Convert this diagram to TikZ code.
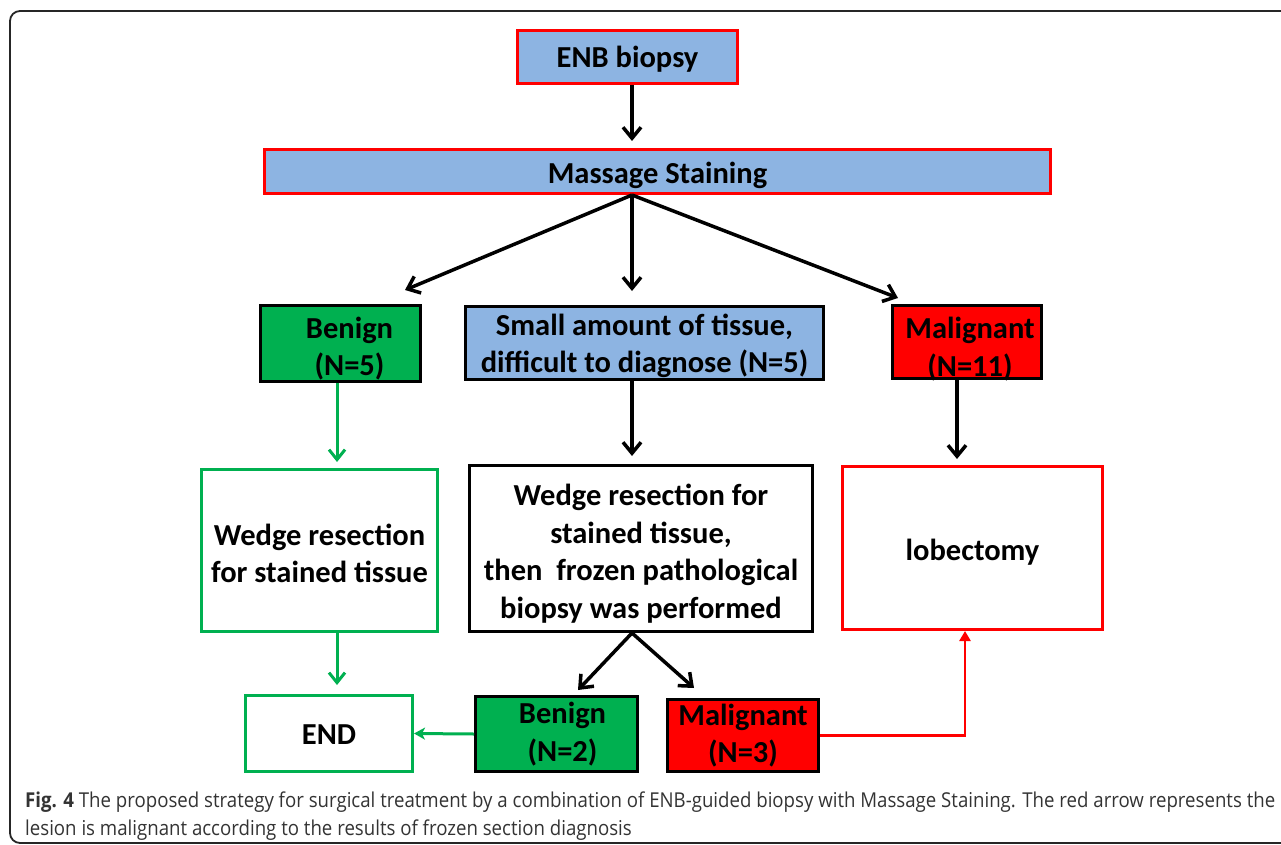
\documentclass[tikz,border=0pt]{standalone}
\usepackage{fontspec}
\setmainfont{Carlito}
\newfontfamily\capfont{Open Sans}
\usetikzlibrary{arrows.meta,calc}
\definecolor{boxblue}{HTML}{8DB4E2}
\definecolor{boxgreen}{HTML}{00B050}
\definecolor{boxred}{HTML}{FF0000}
\definecolor{captext}{HTML}{333333}
\newlength\capwd
\newcommand\capone{{\bfseries Fig. 4} The proposed strategy for surgical treatment by a combination of ENB-guided biopsy with Massage Staining. The red arrow represents the}
\newcommand\captwo{lesion is malignant according to the results of frozen section diagnosis}
\newcommand\lowr[2]{\raisebox{-#1}[\height][\depth]{#2}}
\begin{document}
\settowidth\capwd{\capfont\fontsize{20.5}{24}\selectfont\capone}%
\pgfmathsetmacro\capsx{1250/\capwd}%
\begin{tikzpicture}[x=1pt,y=-1pt,
  box/.style={draw, line width=3pt, inner sep=0pt, align=center,
    font=\fontsize{30.5}{37.5}\selectfont\bfseries},
  bluebox/.style={box, draw=boxred, fill=boxblue},
  blkblue/.style={box, draw=black, fill=boxblue},
  grnfill/.style={box, draw=black, fill=boxgreen},
  redfill/.style={box, draw=black, fill=boxred},
  grnline/.style={box, draw=boxgreen, fill=white},
  blkline/.style={box, draw=black, fill=white},
  redline/.style={box, draw=boxred, fill=white},
  barrow/.style={line width=3.5pt, -{Straight Barb[length=11pt,width=18pt]}},
  garrow/.style={line width=3pt, draw=boxgreen, -{Straight Barb[length=10pt,width=16pt]}},
  garrowt/.style={line width=3pt, draw=boxgreen, -{Stealth[length=11pt,width=12pt,inset=3pt]}},
  rarrow/.style={line width=2.8pt, draw=boxred, -{Triangle[length=10pt,width=11pt]}},
]
\useasboundingbox (0,0) rectangle (1281,845);
\clip (0,0) rectangle (1281,845);
\draw[line width=1.8pt, black!85, rounded corners=10pt] (10,11) rectangle (1320,843);

% nodes
\node[bluebox, minimum width=220pt, minimum height=53pt] (enb) at (627.5,57) {\lowr{2pt}{ENB biopsy}};
\node[bluebox, minimum width=786pt, minimum height=44pt] (mass) at (657.5,171.5) {\lowr{4pt}{Massage Staining}};
\node[grnfill, minimum width=160pt, minimum height=76pt] (ben1) at (340.5,343.5) {\lowr{5pt}{\hspace*{18pt}Benign}\\\lowr{5pt}{\hspace*{18pt}(N=5)}};
\node[blkblue, minimum width=358pt, minimum height=73pt] (small) at (644.5,343) {\lowr{3pt}{Small amount of tissue,}\\\lowr{3pt}{difficult to diagnose (N=5)}};
\node[redfill, minimum width=149pt, minimum height=73pt] (mal1) at (967,342) {\lowr{7pt}{\hspace*{6pt}Malignant}\\\lowr{7pt}{\hspace*{6pt}(N=11)}};
\node[grnline, minimum width=236pt, minimum height=162pt] (wl) at (319.5,550.5) {\lowr{3pt}{Wedge resection}\\\lowr{3pt}{for stained tissue}};
\node[blkline, minimum width=343pt, minimum height=166pt] (wc) at (641,548.5) {\lowr{5pt}{Wedge resection for}\\\lowr{5pt}{stained tissue,}\\\lowr{5pt}{then\ \ frozen pathological}\\\lowr{5pt}{biopsy was performed}};
\node[redline, minimum width=260pt, minimum height=163pt] (lob) at (972.5,548) {\lowr{4pt}{lobectomy}};
\node[grnline, minimum width=167pt, minimum height=76pt] (end) at (329,733.5) {\lowr{1pt}{END}};
\node[grnfill, minimum width=162pt, minimum height=75pt] (ben2) at (556.5,734) {\hspace*{12pt}Benign\\\hspace*{12pt}(N=2)};
\node[redfill, minimum width=151pt, minimum height=72pt] (mal2) at (743,735.5) {Malignant\\(N=3)};

% column coordinates and free ends
\coordinate (cx) at (632,0);
\coordinate (lx) at (337,0);
\coordinate (rx) at (957,0);
\coordinate (rr) at (965,0);
\coordinate (t1) at (405,290);
\coordinate (t4) at (898,298);
\coordinate (t9a) at (578,690);
\coordinate (t9b) at (694,688);

% connectors
\draw[barrow, shorten >=7pt] (enb.south -| cx) -- (mass.north -| cx);
\draw[barrow] (mass.south -| cx) -- (t1);
\draw[barrow, shorten >=14pt] (mass.south -| cx) -- (small.north -| cx);
\draw[barrow] (mass.south -| cx) -- (t4);
\draw[garrow, shorten >=6pt] (ben1.south -| lx) -- (wl.north -| lx);
\draw[barrow, shorten >=8pt] (small.south -| cx) -- (wc.north -| cx);
\draw[barrow, shorten >=6pt] (mal1.south -| rx) -- (lob.north -| rx);
\draw[garrow, shorten >=9pt] (wl.south -| lx) -- (end.north -| lx);
\draw[barrow] (wc.south -| cx) -- (t9a);
\draw[barrow] (wc.south -| cx) -- (t9b);
\draw[garrowt] (ben2.west) -- (end.east);
\draw[rarrow] (mal2.east) -- (mal2.east -| rr) -- (lob.south -| rr);

% caption
\node[anchor=base west, inner sep=0pt, text=captext, font=\capfont\fontsize{20.5}{24}\selectfont] (cap1) at (25,807) {\scalebox{\capsx}[1]{\capone}};
\node[anchor=base west, inner sep=0pt, text=captext, font=\capfont\fontsize{20.5}{24}\selectfont] (cap2) at (25,835) {\scalebox{\capsx}[1]{\captwo}};
\end{tikzpicture}
\end{document}
